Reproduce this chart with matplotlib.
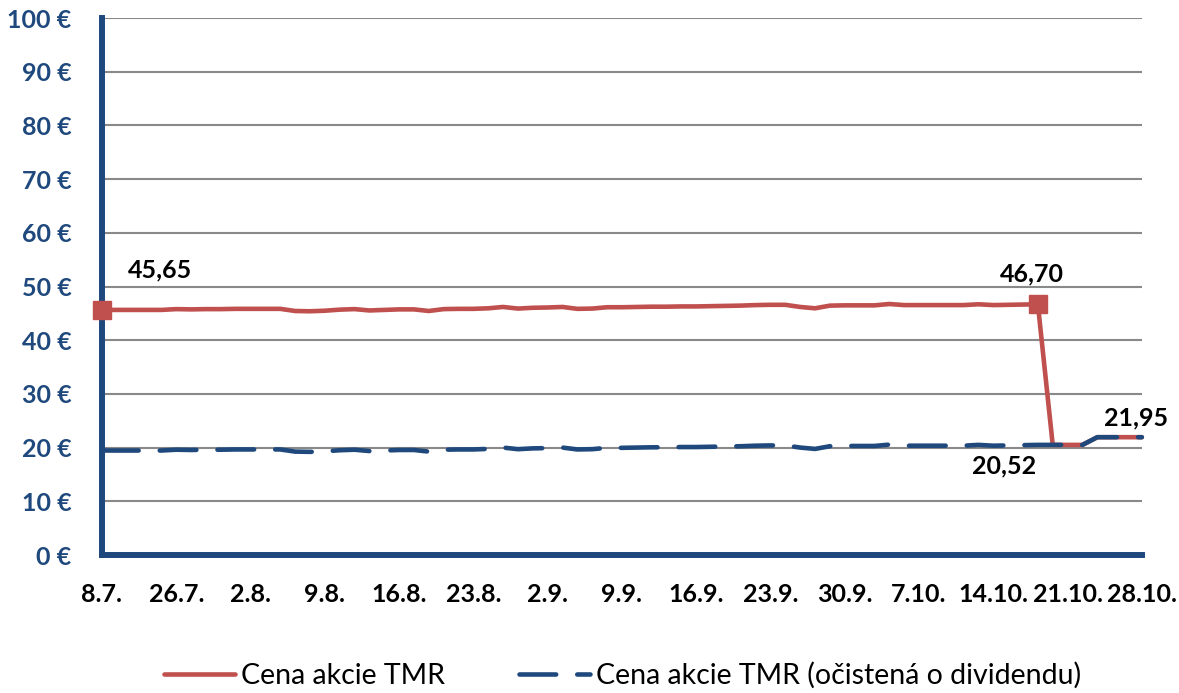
import matplotlib
matplotlib.use("Agg")
import matplotlib.pyplot as plt

plt.rcParams['font.family'] = ['Lato', 'DejaVu Sans']

# daily values, index 0..70 (labels every 5th trading day)
cena = [45.65, 45.65, 45.65, 45.65, 45.65, 45.80, 45.75, 45.80, 45.80, 45.85,
        45.85, 45.85, 45.85, 45.45, 45.40, 45.50, 45.70, 45.80, 45.55, 45.65,
        45.75, 45.75, 45.45, 45.80, 45.85, 45.85, 45.95, 46.20, 45.90, 46.05,
        46.10, 46.20, 45.85, 45.90, 46.15, 46.15, 46.20, 46.25, 46.25, 46.30,
        46.30, 46.35, 46.40, 46.45, 46.55, 46.60, 46.60, 46.20, 45.95, 46.45,
        46.50, 46.50, 46.50, 46.75, 46.55, 46.55, 46.55, 46.55, 46.55, 46.70,
        46.55, 46.60, 46.65, 46.70, 20.52, 20.52, 20.52, 21.95, 21.95, 21.95,
        21.95]
cena_ocistena = [19.47, 19.47, 19.47, 19.47, 19.47, 19.62, 19.57, 19.62, 19.62, 19.67,
                 19.67, 19.67, 19.67, 19.27, 19.22, 19.32, 19.52, 19.62, 19.37, 19.47,
                 19.57, 19.57, 19.27, 19.62, 19.67, 19.67, 19.77, 20.02, 19.72, 19.87,
                 19.92, 20.02, 19.67, 19.72, 19.97, 19.97, 20.02, 20.07, 20.07, 20.12,
                 20.12, 20.17, 20.22, 20.27, 20.37, 20.42, 20.42, 20.02, 19.77, 20.27,
                 20.32, 20.32, 20.32, 20.57, 20.37, 20.37, 20.37, 20.37, 20.37, 20.52,
                 20.37, 20.42, 20.47, 20.52, 20.52, 20.52, 20.52, 21.95, 21.95, 21.95,
                 21.95]
x_labels = ['8.7.', '26.7.', '2.8.', '9.8.', '16.8.', '23.8.', '2.9.', '9.9.',
            '16.9.', '23.9.', '30.9.', '7.10.', '14.10.', '21.10.', '28.10.']
y_ticks = [0, 10, 20, 30, 40, 50, 60, 70, 80, 90, 100]
marked = [0, 63]

red = '#C0504D'
blue = '#1F497D'

fig = plt.figure(figsize=(11.79, 6.93), dpi=100)
ax = fig.add_axes([0.0865, 0.199, 0.882, 0.775])

x = list(range(len(cena)))
ax.plot(x, cena, color=red, lw=3.3, solid_joinstyle='round', solid_capstyle='round',
        clip_on=False, zorder=5, label='Cena akcie TMR')
ax.plot(marked, [cena[i] for i in marked], 's', color=red, markersize=13.5,
        clip_on=False, zorder=5)
ax.plot(x, cena_ocistena, color=blue, lw=3.3, linestyle=(0, (8, 4.6)),
        dash_capstyle='round', dash_joinstyle='round', clip_on=False, zorder=6,
        label='Cena akcie TMR (očistená o dividendu)')

# data labels
labels = [(0, '45,65', (42, 29)), (63, '46,70', (-4, 22)),
          (64, '20,52', (-35, -15)), (70, '21,95', (-4, 14))]
for i, txt, off in labels:
    ax.annotate(txt, (i, cena[i]), xytext=off, textcoords='offset points',
                ha='center', va='center', fontsize=18, fontweight='bold',
                color='black', zorder=10)

ax.set_xlim(0, 70)
ax.set_ylim(0, 100)
ax.set_yticks(y_ticks)
ax.set_yticklabels([f'{v} €' for v in y_ticks])
ax.set_xticks(range(0, 71, 5))
ax.set_xticklabels(x_labels)
ax.tick_params(axis='y', length=0, pad=22, labelsize=18, labelcolor=blue)
ax.tick_params(axis='x', length=0, pad=20, labelsize=18, labelcolor='black')
for lab in ax.get_xticklabels() + ax.get_yticklabels():
    lab.set_fontweight('bold')

ax.grid(axis='y', color='#898989', lw=1.5)
ax.set_axisbelow(True)
for s in ['top', 'right']:
    ax.spines[s].set_visible(False)
for s in ['left', 'bottom']:
    ax.spines[s].set_color(blue)
    ax.spines[s].set_linewidth(4.3)
    ax.spines[s].set_zorder(4)

fig.legend(loc='center', bbox_to_anchor=(0.528, 0.025), ncol=2, frameon=False,
           fontsize=20.5, handlelength=2.5, handletextpad=0.2, columnspacing=2.6)

fig.savefig('out.png', dpi=100)
